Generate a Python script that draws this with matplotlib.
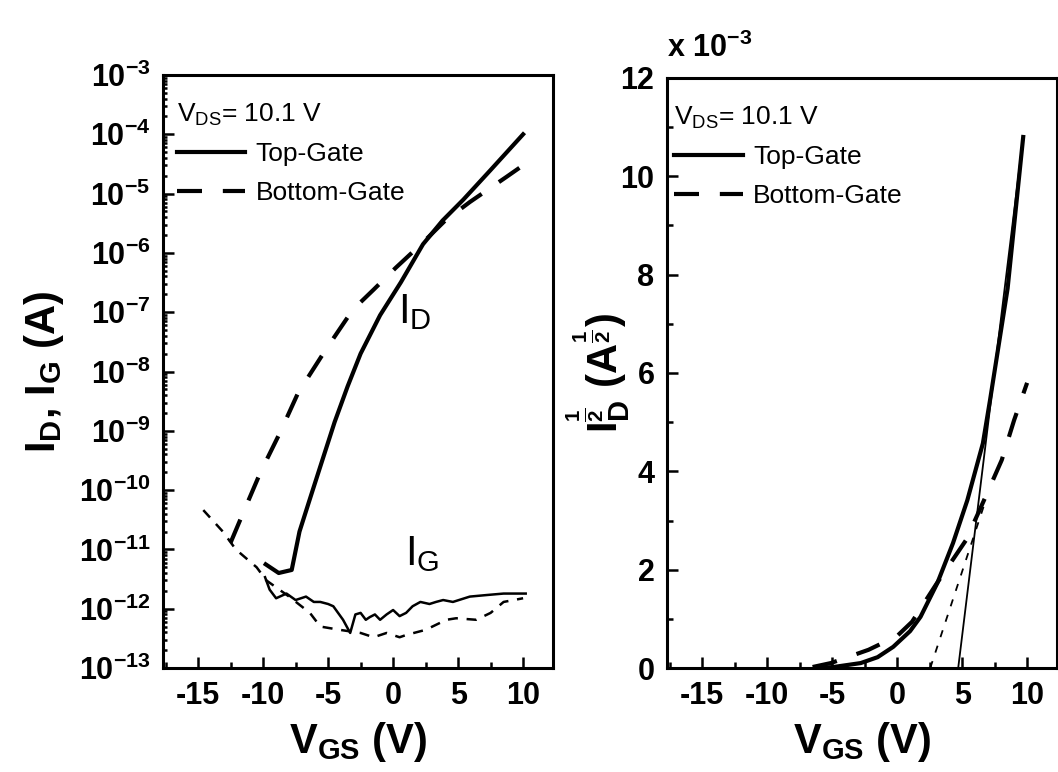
import math
import matplotlib
matplotlib.use("Agg")
import matplotlib.pyplot as plt
from matplotlib.ticker import MultipleLocator, FixedLocator, FuncFormatter, LogLocator, NullFormatter

plt.rcParams.update({
    "font.family": ["Liberation Sans", "DejaVu Sans"],
    "mathtext.fontset": "custom",
    "mathtext.rm": "Liberation Sans",
    "mathtext.it": "Liberation Sans:italic",
    "mathtext.bf": "Liberation Sans:bold",
    "mathtext.default": "regular",
    "axes.unicode_minus": False,
})

# ---------------- data: left panel (log scale) ----------------
vgs_top_id = [-9.8, -8.8, -7.8, -7.2, -6.4, -5.6, -4.5, -3.5, -2.5, -1.0, 0.6, 2.3, 3.8, 5.4, 7.5, 10.0]
id_top = [5.6e-12, 4.0e-12, 4.5e-12, 2.0e-11, 7.1e-11, 2.5e-10, 1.4e-9, 5.6e-9, 2.0e-8,
          8.9e-8, 3.2e-7, 1.4e-6, 3.5e-6, 7.9e-6, 2.5e-5, 1.0e-4]

vgs_bot_id = [-12.5, -11.5, -10.2, -8.7, -7.3, -5.2, -3.1, -1.5, 0.2, 2.3, 4.0, 5.9, 8.7, 9.8]
id_bot = [1.3e-11, 4.3e-11, 2.0e-10, 9.3e-10, 4.4e-9, 2.3e-8, 1.1e-7, 2.4e-7, 5.6e-7,
          1.5e-6, 3.5e-6, 7.2e-6, 1.9e-5, 2.8e-5]

vgs_top_ig = [-9.85, -9.5, -9.0, -8.2, -7.5, -6.7, -6.1, -5.6, -5.0, -4.6, -3.85, -3.3, -2.9, -2.5,
              -2.1, -1.8, -1.4, -1.0, -0.5, 0.0, 0.5, 1.0, 1.5, 2.1, 2.8, 3.3, 3.85, 4.6, 5.9, 7.2, 8.5, 10.2]
ig_top = [3.4e-12, 2.1e-12, 1.5e-12, 1.8e-12, 1.4e-12, 1.6e-12, 1.3e-12, 1.3e-12, 1.2e-12, 1.1e-12,
          6.5e-13, 3.9e-13, 8.0e-13, 8.5e-13, 6.5e-13, 7.2e-13, 8.0e-13, 6.5e-13, 8.0e-13, 9.5e-13,
          7.5e-13, 8.5e-13, 1.1e-12, 1.3e-12, 1.2e-12, 1.3e-12, 1.4e-12, 1.3e-12, 1.6e-12, 1.7e-12,
          1.8e-12, 1.8e-12]

vgs_bot_ig = [-14.6, -13.1, -12.1, -10.5, -9.75, -8.0, -6.4, -5.6, -4.1, -2.5, -1.5, -0.5, 0.5, 1.0,
              2.5, 4.1, 4.85, 6.4, 7.5, 8.5, 10.0]
ig_bot = [4.6e-11, 2.0e-11, 1.0e-11, 5.0e-12, 3.0e-12, 1.6e-12, 8.5e-13, 5.0e-13, 4.4e-13, 3.9e-13,
          3.3e-13, 3.9e-13, 3.3e-13, 3.6e-13, 4.4e-13, 6.5e-13, 6.9e-13, 6.5e-13, 8.5e-13, 1.3e-12, 1.5e-12]

# ---------------- data: right panel (sqrt ID, A^1/2) ----------------
vgs_top_sq = [-6.0, -4.9, -2.8, -1.5, -0.3, 1.0, 1.8, 3.1, 4.3, 5.4, 6.6, 7.15, 8.5, 9.7]
sq_top = [0.0, 0.02e-3, 0.10e-3, 0.22e-3, 0.43e-3, 0.75e-3, 1.04e-3, 1.73e-3, 2.54e-3, 3.41e-3,
          4.57e-3, 5.45e-3, 7.72e-3, 10.8e-3]

vgs_bot_sq = [-6.5, -5.1, -2.2, 0.0, 1.15, 3.0, 5.3, 6.8, 8.05, 9.0, 10.0]
sq_bot = [0.02e-3, 0.10e-3, 0.37e-3, 0.65e-3, 0.94e-3, 1.70e-3, 2.60e-3, 3.48e-3, 4.23e-3, 5.04e-3, 5.80e-3]

vgs_top_fit = [4.7, 9.7]
sq_top_fit = [0.0, 10.8e-3]
vgs_bot_fit = [2.55, 6.8]
sq_bot_fit = [0.0, 3.4e-3]

xticks = [-15, -10, -5, 0, 5, 10]
yticks_right = [0, 2e-3, 4e-3, 6e-3, 8e-3, 10e-3, 12e-3]
legend_title = "V$_{DS}$= 10.1 V"
legend_labels = ["Top-Gate", "Bottom-Gate"]

# ---------------- figure ----------------
W, H = 1058, 772
fig = plt.figure(figsize=(W / 100, H / 100), dpi=100)
ax1 = fig.add_axes([163 / W, (H - 668) / H, 390 / W, 593 / H])
ax2 = fig.add_axes([667 / W, (H - 668) / H, 390 / W, 590 / H])

LW = 3.0
DASH = (6.0, 5.0)
TICKFS = 22


def style_axes(ax):
    for s in ax.spines.values():
        s.set_linewidth(2.2)
    ax.tick_params(which="both", direction="in", top=False, right=False, width=1.8)
    ax.tick_params(which="major", length=8, labelsize=TICKFS, pad=9)
    ax.tick_params(which="minor", length=4.5)
    for lab in ax.get_xticklabels() + ax.get_yticklabels():
        lab.set_fontweight("bold")
    ax.set_xlim(-17.7, 12.3)
    ax.xaxis.set_major_locator(FixedLocator(xticks))
    ax.xaxis.set_minor_locator(MultipleLocator(2.5))


def add_legend(ax, handles, x0, y0):
    leg = ax.legend(handles, legend_labels, title=legend_title, loc="upper left",
                    bbox_to_anchor=(x0, y0), frameon=False, fontsize=19, title_fontsize=19,
                    handlelength=2.6, handletextpad=0.4, labelspacing=0.55,
                    borderaxespad=0, borderpad=0)
    leg._legend_box.align = "left"
    return leg


# ----- left panel -----
l1, = ax1.plot(vgs_top_id, id_top, color="black", lw=LW, solid_joinstyle="round")
l2, = ax1.plot(vgs_bot_id, id_bot, color="black", lw=LW, linestyle=(0, DASH))
ax1.plot(vgs_top_ig, ig_top, color="black", lw=1.8)
ax1.plot(vgs_bot_ig, ig_bot, color="black", lw=1.8, linestyle=(0, (4, 3.5)))
ax1.set_yscale("log")
ax1.set_ylim(1e-13, 1e-3)
ax1.yaxis.set_major_locator(LogLocator(base=10, numticks=20))
ax1.yaxis.set_minor_locator(LogLocator(base=10, subs=[2, 3, 4, 5, 6, 7, 8, 9], numticks=20))
ax1.yaxis.set_minor_formatter(NullFormatter())
ax1.yaxis.set_major_formatter(FuncFormatter(lambda v, p: "10$^{%d}$" % round(math.log10(v))))
style_axes(ax1)
ax1.tick_params(axis="y", which="minor", length=3)

ax1.text(0.4, 6.6e-8, "I$_{D}$", fontsize=30, ha="left", va="baseline")
ax1.text(0.9, 5.5e-12, "I$_{G}$", fontsize=30, ha="left", va="baseline")

ax1.set_xlabel("V$_{GS}$ (V)", fontsize=30, fontweight="bold")
ax1.set_ylabel("I$_{D}$, I$_{G}$ (A)", fontsize=30, fontweight="bold")
ax1.xaxis.set_label_coords(0.5, -0.088)
ax1.yaxis.set_label_coords(-0.25, 0.5)
add_legend(ax1, [l1, l2], 0.035, 0.955)

# ----- right panel -----
r1, = ax2.plot(vgs_top_sq, sq_top, color="black", lw=LW, solid_joinstyle="round")
r2, = ax2.plot(vgs_bot_sq, sq_bot, color="black", lw=LW, linestyle=(0, DASH))
ax2.plot(vgs_top_fit, sq_top_fit, color="black", lw=1.3)
ax2.plot(vgs_bot_fit, sq_bot_fit, color="black", lw=1.3, linestyle=(0, (4, 5)))
ax2.set_ylim(0, 12e-3)
ax2.yaxis.set_major_locator(FixedLocator(yticks_right))
ax2.yaxis.set_minor_locator(MultipleLocator(1e-3))
ax2.yaxis.set_major_formatter(FuncFormatter(lambda v, p: "%d" % round(v * 1e3)))
style_axes(ax2)
ax2.text(0.0, 1.036, "x 10$^{-3}$", transform=ax2.transAxes, fontsize=22, fontweight="bold",
         ha="left", va="baseline")

ax2.set_xlabel("V$_{GS}$ (V)", fontsize=30, fontweight="bold")
ax2.set_ylabel(r"I$_{D}^{\frac{1}{2}}$ (A$^{\frac{1}{2}}$)", fontsize=30, fontweight="bold")
ax2.xaxis.set_label_coords(0.5, -0.088)
ax2.yaxis.set_label_coords(-0.09, 0.5)
add_legend(ax2, [r1, r2], 0.018, 0.955)

fig.savefig("out.png", dpi=100)
